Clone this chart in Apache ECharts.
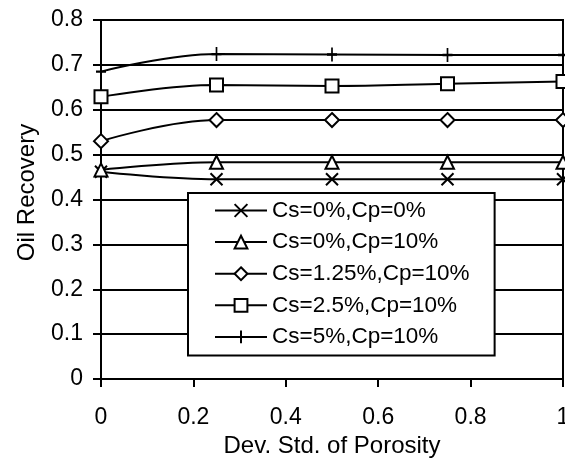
<!DOCTYPE html>
<html>
<head>
<meta charset="utf-8">
<script src="https://cdn.jsdelivr.net/npm/echarts@6/dist/echarts.min.js"></script>
<style>html,body{margin:0;padding:0;background:#fff;overflow:hidden}#c{width:565px;height:459px}</style>
</head>
<body>
<div id="c"></div>
<script>
const xValues = [0, 0.25, 0.5, 0.75, 1.0];
const seriesNames = ['Cs=0%,Cp=0%', 'Cs=0%,Cp=10%', 'Cs=1.25%,Cp=10%', 'Cs=2.5%,Cp=10%', 'Cs=5%,Cp=10%'];
const cs0cp0 = [0.462, 0.445, 0.445, 0.445, 0.445];
const cs0cp10 = [0.466, 0.483, 0.483, 0.483, 0.483];
const cs125cp10 = [0.530, 0.577, 0.577, 0.577, 0.577];
const cs25cp10 = [0.629, 0.655, 0.653, 0.658, 0.663];
const cs5cp10 = [0.685, 0.724, 0.723, 0.722, 0.722];
const yTicks = [0, 0.1, 0.2, 0.3, 0.4, 0.5, 0.6, 0.7, 0.8];
const xTicks = [0, 0.2, 0.4, 0.6, 0.8, 1];

const FONT = 'Liberation Sans';
const symbols = [
  'path://M0,0L10,10M10,0L0,10',
  'triangle',
  'diamond',
  'rect',
  'path://M0,7L10,7M5,0L5,14'
];
const sizes = [12, 13, 14, 13, [10, 14]];
const allData = [cs0cp0, cs0cp10, cs125cp10, cs25cp10, cs5cp10];

const series = allData.map((vals, i) => ({
  name: seriesNames[i],
  type: 'line',
  smooth: 0.4,
  data: vals.map((v, j) => [xValues[j], v]),
  symbol: symbols[i],
  symbolSize: sizes[i],
  showAllSymbol: true,
  lineStyle: { color: '#000', width: 2 },
  itemStyle: { color: '#fff', borderColor: '#000', borderWidth: 2 },
  z: 3
}));

const chart = echarts.init(document.getElementById('c'));
chart.setOption({
  animation: false,
  backgroundColor: '#fff',
  grid: { left: 101, right: 2, top: 20, bottom: 80, show: true, borderColor: '#000', borderWidth: 2, outerBoundsMode: 'none', containLabel: false },
  xAxis: {
    type: 'value', min: 0, max: 1, interval: 0.2,
    name: 'Dev. Std. of Porosity', nameLocation: 'middle', nameGap: 49,
    nameTextStyle: { fontFamily: FONT, fontSize: 24, color: '#000' },
    axisLine: { lineStyle: { color: '#000', width: 2 } },
    axisTick: { show: true, length: 8, lineStyle: { color: '#000', width: 2 } },
    axisLabel: { fontFamily: FONT, fontSize: 23, color: '#000', margin: 27, hideOverlap: false,
      formatter: v => { const t = xTicks.find(x => Math.abs(x - v) < 1e-9); return t === undefined ? '' : String(t); } },
    splitLine: { show: false }
  },
  yAxis: {
    type: 'value', min: 0, max: 0.8, interval: 0.1,
    name: 'Oil Recovery', nameLocation: 'middle', nameGap: 62,
    nameTextStyle: { fontFamily: FONT, fontSize: 24, color: '#000', padding: [0, 0, 0, 14] },
    axisLine: { show: true, lineStyle: { color: '#000', width: 2 } },
    axisTick: { show: true, length: 8, lineStyle: { color: '#000', width: 2 } },
    axisLabel: { fontFamily: FONT, fontSize: 23, color: '#000', margin: 18,
      formatter: v => { const t = yTicks.find(y => Math.abs(y - v) < 1e-9); return t === undefined ? '' : String(t); } },
    splitLine: { show: true, lineStyle: { color: '#000', width: 2 } }
  },
  legend: {
    orient: 'vertical', left: 188, top: 193,
    backgroundColor: '#fff', borderColor: '#000', borderWidth: 2,
    padding: [6, 25, 7, 26],
    itemWidth: 52, itemHeight: 16, itemGap: 8.6,
    lineStyle: { color: '#000', width: 2 },
    itemStyle: { color: '#fff', borderColor: '#000', borderWidth: 2 },
    textStyle: { fontFamily: FONT, fontSize: 22.5, color: '#000' },
    data: seriesNames
  },
  series: series
});
</script>
</body>
</html>
